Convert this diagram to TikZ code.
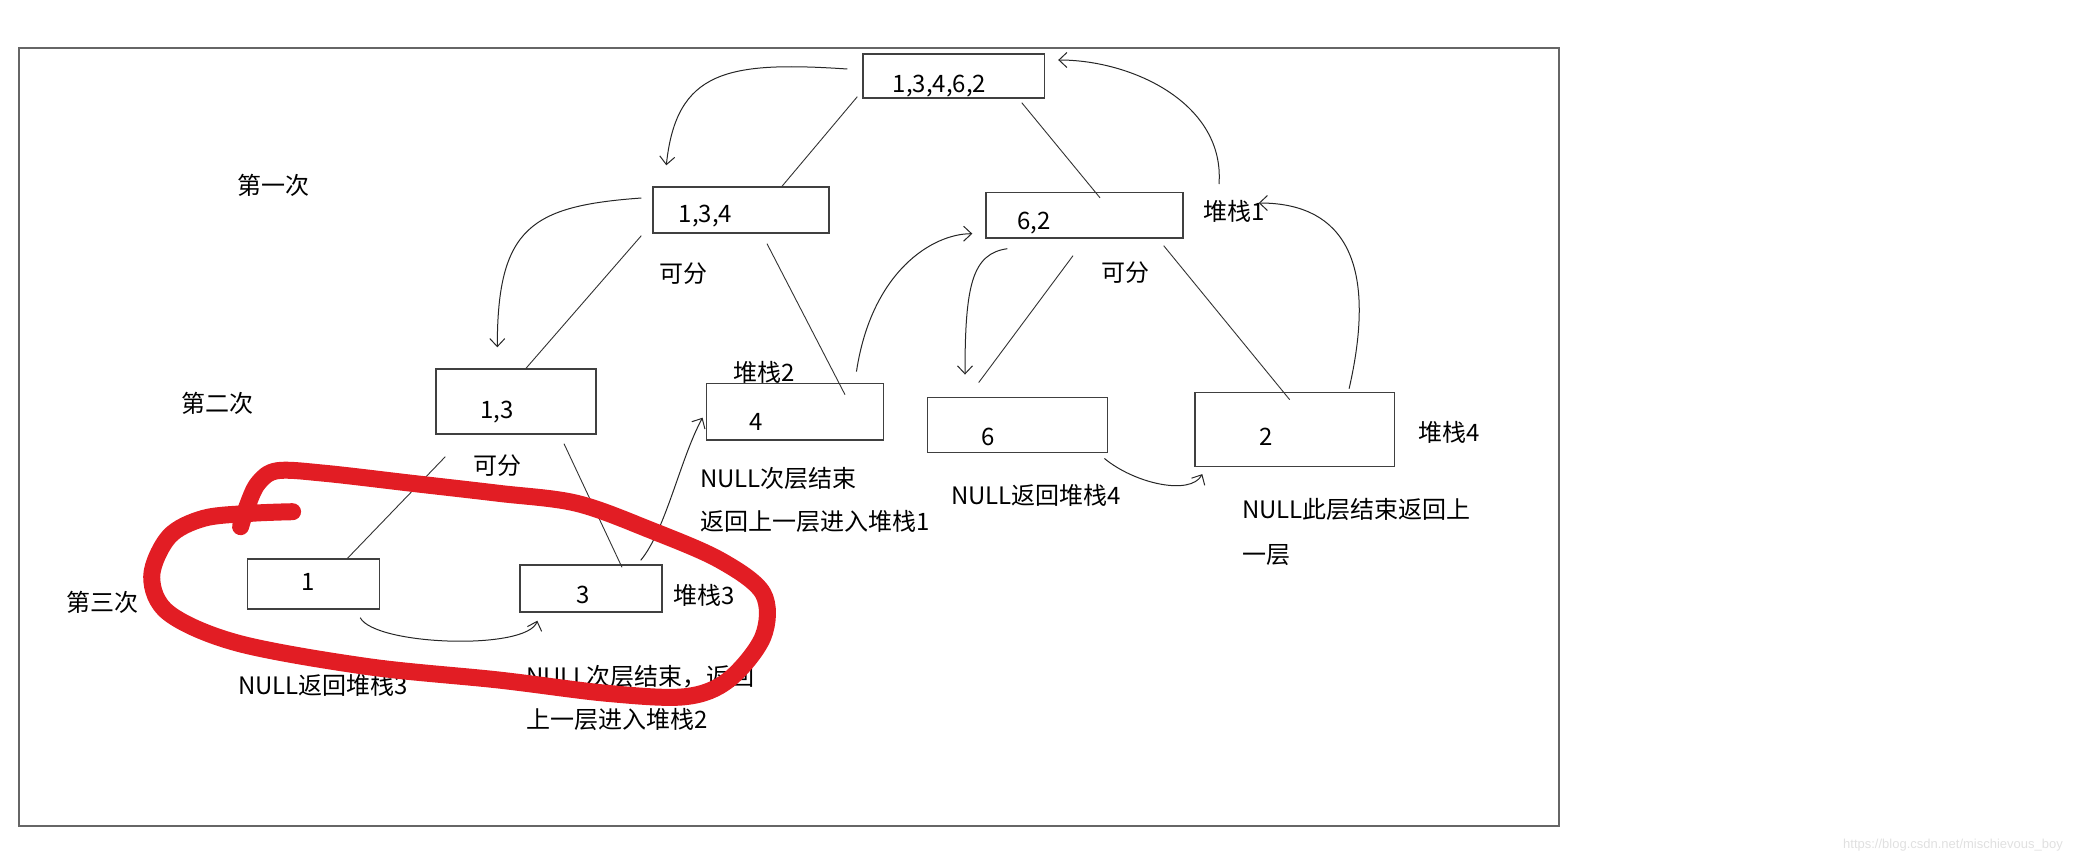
\documentclass[tikz,border=0pt]{standalone}
\usepackage{fontspec}
\setmainfont{Noto Sans CJK SC}
\newfontfamily\markfont{Liberation Sans}
\usetikzlibrary{arrows.meta}
\definecolor{penred}{RGB}{226,29,36}

\begin{document}
\begin{tikzpicture}[x=1pt, y=-1pt,
	box/.style={draw=black!75, line width=1.4pt, inner sep=0pt},
	num/.style={font=\fontsize{24}{28}\selectfont, inner sep=0pt},
	lbl/.style={font=\fontsize{24}{43}\selectfont, inner sep=0pt, anchor=west, align=left},
	link/.style={draw=black!80, line width=0.9pt},
	curl/.style={draw=black!85, line width=1pt, -{Straight Barb[length=8pt,width=15pt]}}]
	
	% --- canvas and frame ---
	\useasboundingbox (0,0) rectangle (2097,862);
	\draw[black!60, line width=1.5pt] (19,48) rectangle (1559,826);
	
	% --- boxes ---
	\node[box, minimum width=181.5pt, minimum height=44pt] (A) at (953.75,76) {};
	\node[box, minimum width=176pt, minimum height=46pt] (B) at (741,210) {};
	\node[box, minimum width=197pt, minimum height=45.5pt] (C) at (1084.5,215.25) {};
	\node[box, minimum width=160pt, minimum height=65pt] (D) at (516,401.5) {};
	\node[box, minimum width=177.5pt, minimum height=56.7pt] (E) at (795,411.7) {};
	\node[box, minimum width=180pt, minimum height=55.5pt] (F) at (1017.7,425) {};
	\node[box, minimum width=199.4pt, minimum height=74pt] (G) at (1294.7,429.4) {};
	\node[box, minimum width=132pt, minimum height=50pt] (H) at (313.5,584) {};
	\node[box, minimum width=142pt, minimum height=47pt] (I) at (591,588.5) {};
	
	% numbers inside the boxes
	\node[num] (A-txt) at (939.5,86) {1,3,4,6,2};
	\node[num] (B-txt) at (705.5,216) {1,3,4};
	\node[num] (C-txt) at (1034,223) {6,2};
	\node[num] (D-txt) at (497,412) {1,3};
	\node[num] (E-txt) at (756,421.5) {4};
	\node[num] (F-txt) at (988,436.5) {6};
	\node[num] (G-txt) at (1266,437) {2};
	\node[num] (H-txt) at (308,582) {1};
	\node[num] (I-txt) at (583.6,595) {3};
	
	% --- labels ---
	\node[lbl] (first) at (237,185) {第一次};
	\node[lbl] (second) at (181,403) {第二次};
	\node[lbl] (third) at (66,602) {第三次};
	\node[lbl] (canB) at (659,274) {可分};
	\node[lbl] (canC) at (1101,273) {可分};
	\node[lbl] (canD) at (473.5,466) {可分};
	\node[lbl] (stack1) at (1203,211.5) {堆栈1};
	\node[lbl] (stack2) at (733,372) {堆栈2};
	\node[lbl] (stack3) at (673,595) {堆栈3};
	\node[lbl] (stack4) at (1418,432) {堆栈4};
	\node[lbl] (E-note) at (700,499.5) {NULL次层结束\\返回上一层进入堆栈1};
	\node[lbl] (F-note) at (951,495) {NULL返回堆栈4};
	\node[lbl, font=\fontsize{24}{44.5}\selectfont] (G-note) at (1242,532) {NULL此层结束返回上\\一层};
	\node[lbl] (H-note) at (238,685) {NULL返回堆栈3};
	\node[lbl] (I-note) at (526,698) {NULL次层结束，返回\\上一层进入堆栈2};
	
	% --- tree lines ---
	\draw[link] ([xshift=-5pt,yshift=2pt]A.south west) -- ([xshift=41pt]B.north);
	\draw[link] ([xshift=68pt,yshift=-4pt]A.south) -- ([xshift=15.5pt,yshift=-6pt]C.north);
	\draw[link] ([xshift=-11pt,yshift=-2pt]B.south west) -- ([xshift=10pt]D.north);
	\draw[link] ([xshift=26pt,yshift=-10pt]B.south) -- ([xshift=50pt,yshift=-12pt]E.north);
	\draw[link] ([xshift=-11.5pt,yshift=-17pt]C.south) -- ([xshift=-39pt,yshift=14pt]F.north);
	\draw[link] ([xshift=-20pt,yshift=-7pt]C.south east) -- ([xshift=-5pt,yshift=-8pt]G.north);
	\draw[link] ([xshift=10pt,yshift=-22pt]D.south west) -- ([xshift=34pt]H.north);
	\draw[link] ([xshift=48pt,yshift=-9pt]D.south) -- ([xshift=31pt,yshift=-3pt]I.north);
	
	% --- hand drawn arrows ---
	\draw[curl] ([xshift=-15pt,yshift=7pt]A.west) .. controls +(-120,-8) and +(10,-95) .. ([xshift=14pt,yshift=21pt]B.north west);
	\draw[curl] ([xshift=16pt,yshift=27.5pt]stack1.west) .. controls +(6,-80) and +(75,0) .. ([xshift=13pt,yshift=16pt]A.east);
	\draw[curl] ([xshift=-46pt,yshift=3pt]G.north east) .. controls +(32,-140) and +(75,0) .. ([xshift=-6pt,yshift=8.5pt]stack1.east);
	\draw[curl] ([xshift=-11pt,yshift=12pt]B.west) .. controls +(-110,8) and +(0,-120) .. ([xshift=62pt,yshift=21pt]D.north west);
	\draw[curl] ([xshift=-28pt,yshift=11pt]E.north east) .. controls +(15,-100) and +(-40,0) .. ([xshift=-13pt,yshift=5pt]C.south west);
	\draw[curl] ([xshift=22pt,yshift=-10pt]C.south west) .. controls +(-35,5) and +(0,-90) .. ([xshift=38pt,yshift=22pt]F.north west);
	\draw[curl] ([xshift=-22pt,yshift=4pt]I.north east) .. controls +(25,-30) and +(-22,40) .. ([xshift=-3pt,yshift=-6pt]E.west);
	\draw[curl] ([xshift=-20pt,yshift=-8pt]H.south east) .. controls +(15,28) and +(-10,30) .. ([xshift=18pt,yshift=-8pt]I.south west);
	\draw[curl] ([xshift=-4pt,yshift=-5pt]F.south east) .. controls +(30,25) and +(-12,22) .. ([xshift=8pt,yshift=-7pt]G.south west);
	
	% --- red loop round the third level ---
	\draw[penred, line width=17pt, line cap=round, line join=round]
	plot[smooth, tension=0.55] coordinates {
		(240.6,526.7) (247,506.7) (258,483.3) (277.4,470.7) (325,473.3)
		(411.9,483.3) (498.6,493.3) (576.7,503.3) (650.4,530) (719.8,560)
		(763,593.3) (763,636.7) (728.4,680) (685,696.7) (607,693.3)
		(498.6,680) (368.5,666.7) (238.4,643.3) (169,613.3) (151.7,576.7)
		(169,536.7) (203.7,518.3) (251.4,513.3) (292.6,511.7)};
	
	% watermark
	\node[font=\markfont\fontsize{13}{15}\selectfont, text=black!12, inner sep=0pt] (mark) at (1953,845) {https://blog.csdn.net/mischievous\_boy};
	
\end{tikzpicture}
\end{document}
